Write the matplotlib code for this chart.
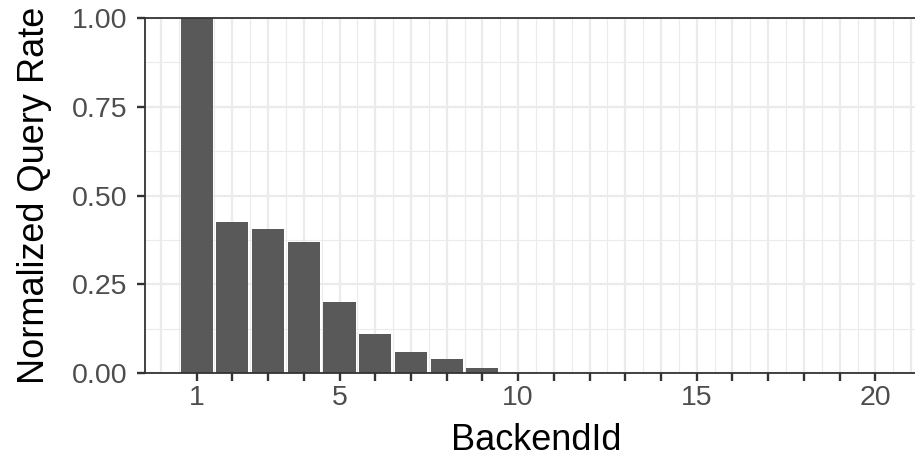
import matplotlib
matplotlib.use("Agg")
from matplotlib import pyplot as plt
from matplotlib.ticker import MultipleLocator

# data
backend_ids = list(range(1, 21))
query_rate = [1.0, 0.424, 0.405, 0.370, 0.200, 0.110, 0.060, 0.040, 0.015,
              0, 0, 0, 0, 0, 0, 0, 0, 0, 0, 0]
shown_labels = [1, 5, 10, 15, 20]

plt.rcParams['font.family'] = ['Liberation Sans', 'DejaVu Sans']

fig = plt.figure(figsize=(9.15, 4.59), dpi=100)
# panel runs past the right edge of the picture, as in the reference
ax = fig.add_axes([145 / 915, 86 / 459, 782 / 915, 355 / 459])

ax.bar(backend_ids, query_rate, width=0.9, color='#595959', zorder=2)

ax.set_xlim(-0.445, 21.445)
ax.set_ylim(0, 1)

# grid lines at every integer (0..21), ticks only at 1..20
grid_x = list(range(0, 22))
ax.set_xticks(grid_x)
ax.set_xticklabels([str(v) if v in shown_labels else '' for v in grid_x])
for t, v in zip(ax.xaxis.get_major_ticks(), grid_x):
    if v not in backend_ids:
        t.tick1line.set_visible(False)
ax.xaxis.set_minor_locator(MultipleLocator(0.5))

ax.set_yticks([0, 0.25, 0.5, 0.75, 1.0])
ax.set_yticklabels(['0.00', '0.25', '0.50', '0.75', '1.00'])
ax.yaxis.set_minor_locator(MultipleLocator(0.125))

ax.set_axisbelow(True)
ax.grid(which='major', color='#EBEBEB', linewidth=1.6)
ax.grid(which='minor', color='#EBEBEB', linewidth=0.8)

ax.tick_params(which='major', length=5.8, width=1.7, color='#333333',
               labelsize=20.5, labelcolor='#4D4D4D')
ax.tick_params(axis='x', pad=3)
ax.tick_params(axis='y', pad=7)
ax.tick_params(which='minor', length=0)

for s in ax.spines.values():
    s.set_color('#333333')
    s.set_linewidth(1.3)

ax.set_xlabel('BackendId', fontsize=26, color='black', va='top')
ax.xaxis.set_label_coords(536 / 915, 0.0795, transform=fig.transFigure)
ax.set_ylabel('Normalized Query Rate', fontsize=26, color='black')
ax.yaxis.set_label_coords(0.057, (459 - 195.5) / 459, transform=fig.transFigure)

fig.savefig('out.png', dpi=100)
